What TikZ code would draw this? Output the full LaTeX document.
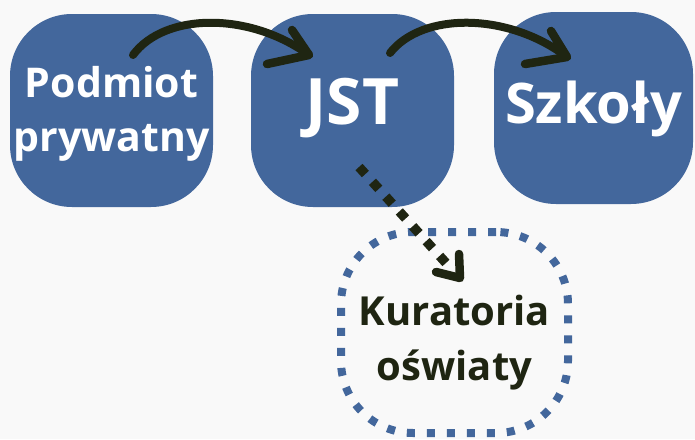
\documentclass[tikz,border=0pt]{standalone}
\usepackage{fontspec}
\setmainfont{Open Sans}
\usetikzlibrary{calc}
\definecolor{boxblue}{HTML}{43679C}
\definecolor{ink}{HTML}{1F2512}
\definecolor{bg}{HTML}{F9F9F9}
\tikzset{
  bluebox/.style={fill=boxblue, draw=none, rounded corners=62pt, inner sep=0pt},
  boxtext/.style={text=white, font=\bfseries, align=center, inner sep=0pt},
  arrowline/.style={draw=ink, line width=8pt, line cap=round},
  headline/.style={draw=ink, line width=8.5pt, line cap=round, line join=round},
  dotline/.style={draw=ink, line width=9.5pt, dash pattern=on 9.5pt off 10.5pt},
  dotbox/.style={draw=boxblue, line width=8pt, dash pattern=on 8pt off 12pt, rounded corners=72pt, inner sep=0pt}
}
\begin{document}
\begin{tikzpicture}[x=1pt,y=-1pt]
\fill[bg] (0,0) rectangle (695,439);
\useasboundingbox (0,0) rectangle (695,439);
% boxes
\node[bluebox, minimum width=203pt, minimum height=193pt] (p) at (111.5,110.5) {};
\node[bluebox, minimum width=203pt, minimum height=193pt] (j) at (352.5,110.5) {};
\node[bluebox, minimum width=199pt, minimum height=192pt] (s) at (593.5,108) {};
\node[dotbox, minimum width=227pt, minimum height=201pt] (k) at (454.5,332.5) {};
% texts
\node[boxtext, font=\bfseries\fontsize{41}{54}\selectfont] (pt) at ($(p.center)+(0,3)$) {Podmiot\\prywatny};
\node[boxtext, font=\bfseries\fontsize{64}{70}\selectfont] (jt) at ($(j.center)+(0,-2)$) {JST};
\node[boxtext, font=\bfseries\fontsize{56}{60}\selectfont] (st) at ($(s.center)+(0,1)$) {Szkoły};
\node[boxtext, text=ink, font=\bfseries\fontsize{40}{55}\selectfont] (kt) at ($(k.center)+(0,10)$) {Kuratoria\\oświaty};
% arrow 1
\coordinate (a1s) at (133,55);
\coordinate (a1e) at (309,55);
\draw[arrowline] (a1s) .. controls (165,12) and (250,12) .. (a1e);
\draw[headline] ($(a1e)+(-17,-25)$) -- (a1e) -- ($(a1e)+(-42,9)$);
% arrow 2
\coordinate (a2s) at (390,53);
\coordinate (a2e) at (567,57);
\draw[arrowline] (a2s) .. controls (422,12) and (508,12) .. (a2e);
\draw[headline] ($(a2e)+(-16,-26)$) -- (a2e) -- ($(a2e)+(-42,7)$);
% dotted arrow
\coordinate (a3s) at (359,167);
\coordinate (a3e) at (460,278);
\draw[dotline] (a3s) -- ($(a3e)+(-14,-15)$);
\draw[headline] ($(a3e)+(-1,-24)$) -- (a3e) -- ($(a3e)+(-24,-6)$);
\end{tikzpicture}
\end{document}
